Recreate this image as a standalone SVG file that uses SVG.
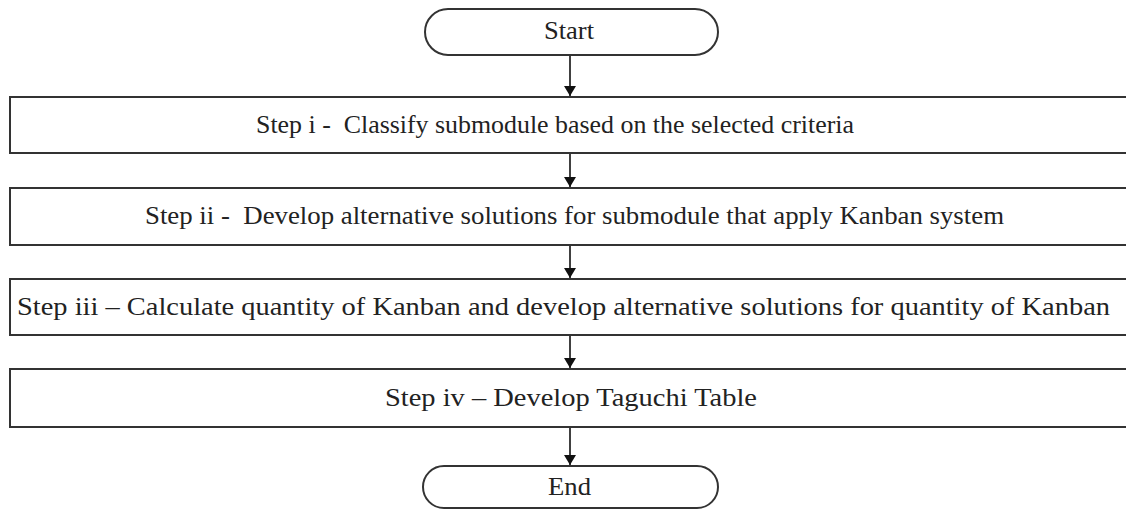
<svg xmlns="http://www.w3.org/2000/svg" width="1126" height="510" viewBox="0 0 1126 510">
  <style>
    .shape { fill: #ffffff; stroke: #333333; stroke-width: 2; }
    .label { font-family: "Liberation Serif", "Times New Roman", serif; font-size: 26px; fill: #222222; white-space: pre; }
    .flow { stroke: #111111; stroke-width: 1.6; fill: none; }
  </style>
  <defs>
    <marker id="arrow" viewBox="0 0 10 12" refX="10" refY="6" markerWidth="10" markerHeight="12" markerUnits="userSpaceOnUse" orient="auto">
      <path d="M0,0 L10,6 L0,12 Z" fill="#111111"/>
    </marker>
  </defs>
  <rect width="1126" height="510" fill="#ffffff"/>

  <g id="connectors">
    <line class="flow" x1="570" y1="55" x2="570" y2="96" marker-end="url(#arrow)"/>
    <line class="flow" x1="570" y1="153" x2="570" y2="187" marker-end="url(#arrow)"/>
    <line class="flow" x1="570" y1="245" x2="570" y2="278" marker-end="url(#arrow)"/>
    <line class="flow" x1="570" y1="335" x2="570" y2="368" marker-end="url(#arrow)"/>
    <line class="flow" x1="570" y1="427" x2="570" y2="465" marker-end="url(#arrow)"/>
  </g>

  <g id="start">
    <rect class="shape" x="425" y="9" width="293" height="46" rx="23" ry="23"/>
    <text class="label" x="544" y="39" textLength="50" lengthAdjust="spacingAndGlyphs">Start</text>
  </g>

  <g id="step-i">
    <rect class="shape" x="10" y="97" width="1130" height="56"/>
    <text class="label" x="256" y="133" textLength="598" lengthAdjust="spacingAndGlyphs">Step i -  Classify submodule based on the selected criteria</text>
  </g>

  <g id="step-ii">
    <rect class="shape" x="10" y="188" width="1130" height="57"/>
    <text class="label" x="145" y="224" textLength="859" lengthAdjust="spacingAndGlyphs">Step ii -  Develop alternative solutions for submodule that apply Kanban system</text>
  </g>

  <g id="step-iii">
    <rect class="shape" x="10" y="279" width="1130" height="56"/>
    <text class="label" x="17" y="315" textLength="1093" lengthAdjust="spacingAndGlyphs">Step iii – Calculate quantity of Kanban and develop alternative solutions for quantity of Kanban</text>
  </g>

  <g id="step-iv">
    <rect class="shape" x="10" y="369" width="1130" height="58"/>
    <text class="label" x="385" y="406" textLength="372" lengthAdjust="spacingAndGlyphs">Step iv – Develop Taguchi Table</text>
  </g>

  <g id="end">
    <rect class="shape" x="423" y="466" width="295" height="42" rx="21" ry="21"/>
    <text class="label" x="548" y="495" textLength="43" lengthAdjust="spacingAndGlyphs">End</text>
  </g>
</svg>
